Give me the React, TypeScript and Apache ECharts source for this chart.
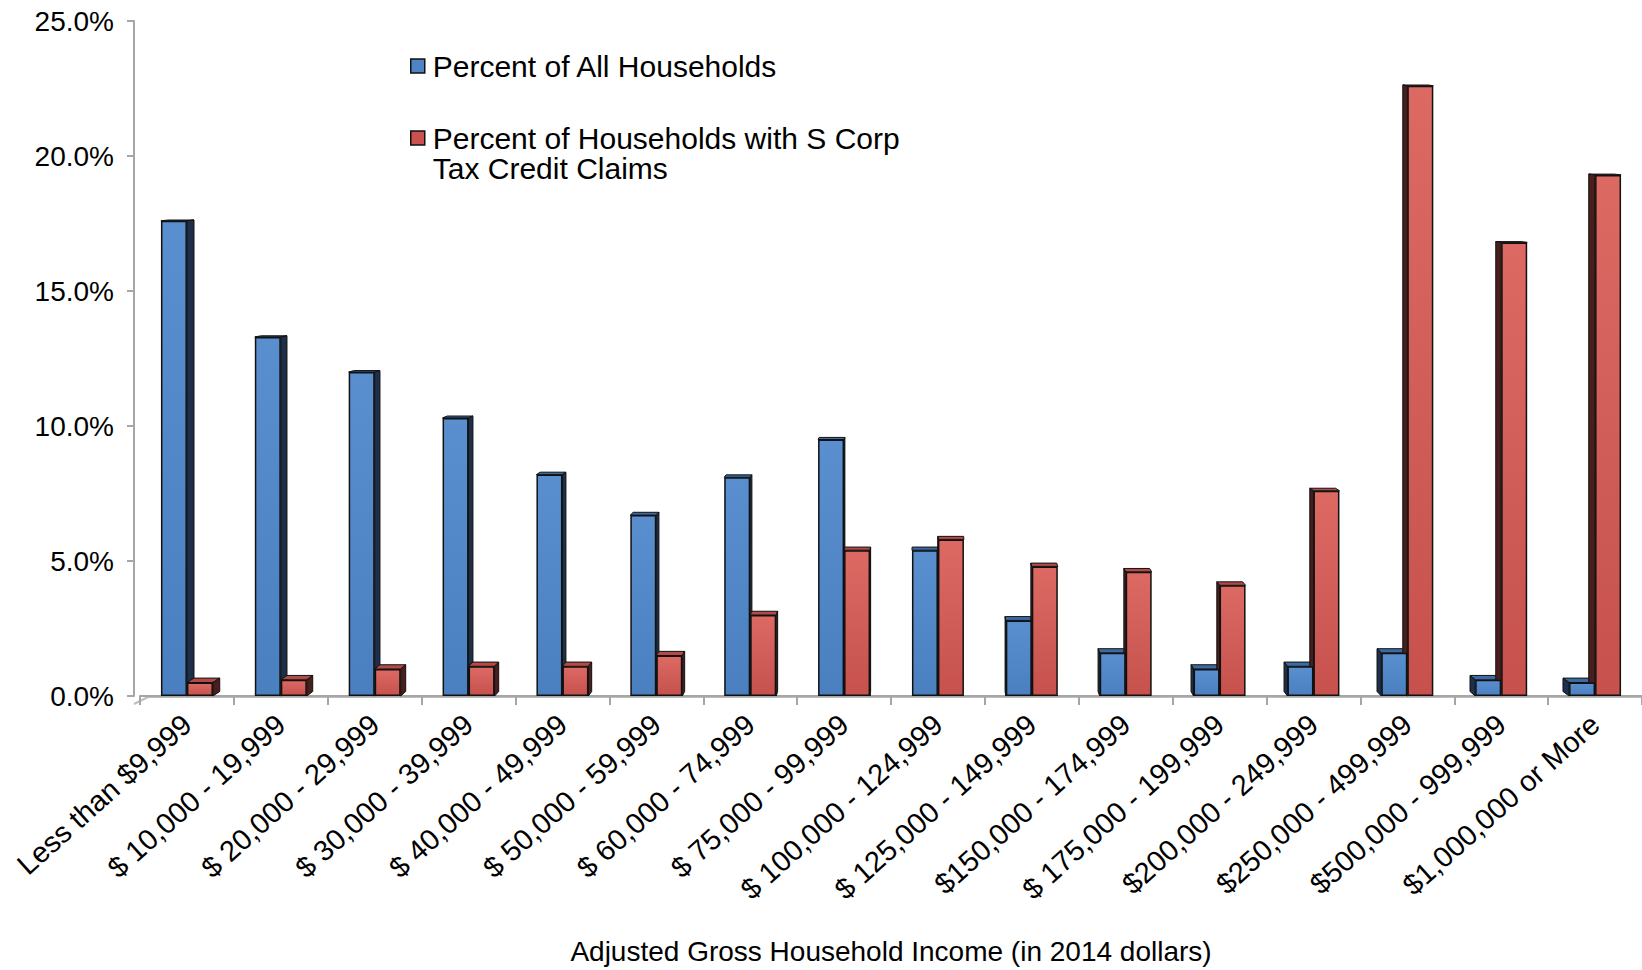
import React, { useEffect, useRef } from "react";
import * as echarts from "echarts";

const categories = [
  "Less than $9,999",
  "$ 10,000 - 19,999",
  "$ 20,000 - 29,999",
  "$ 30,000 - 39,999",
  "$ 40,000 - 49,999",
  "$ 50,000 - 59,999",
  "$ 60,000 - 74,999",
  "$ 75,000 - 99,999",
  "$ 100,000 - 124,999",
  "$ 125,000 - 149,999",
  "$150,000 - 174,999",
  "$ 175,000 - 199,999",
  "$200,000 - 249,999",
  "$250,000 - 499,999",
  "$500,000 - 999,999",
  "$1,000,000 or More",
];

const allHouseholds = [17.6, 13.3, 12.0, 10.3, 8.2, 6.7, 8.1, 9.5, 5.4, 2.8, 1.6, 1.0, 1.1, 1.6, 0.6, 0.5];
const sCorpHouseholds = [0.5, 0.6, 1.0, 1.1, 1.1, 1.5, 3.0, 5.4, 5.8, 4.8, 4.6, 4.1, 7.6, 22.6, 16.8, 19.3];

const yTicks = { min: 0, max: 25, interval: 5 };

const S1 = "Percent of All Households";
const S2 = "Percent of Households with S Corp Tax Credit Claims";

const FONT = "'Liberation Sans', Arial, Helvetica, sans-serif";
const BW = 26;
const VP_X = 930;
const EYE_Y = 220;
const K = 0.0095;

export default function App() {
  const ref = useRef<HTMLDivElement | null>(null);

  useEffect(() => {
    if (!ref.current) return;
    const chart = echarts.init(ref.current, undefined, { renderer: "svg" });

    const blueGrad = new echarts.graphic.LinearGradient(0, 0, 0, 1, [
      { offset: 0, color: "#5a8fcf" },
      { offset: 1, color: "#4a80c0" },
    ]);
    const redGrad = new echarts.graphic.LinearGradient(0, 0, 0, 1, [
      { offset: 0, color: "#dc6a63" },
      { offset: 1, color: "#c6514d" },
    ]);

    const sideData = categories.map((_, i) => [i, allHouseholds[i], sCorpHouseholds[i]]);

    const renderItem = (params: any, api: any) => {
      const i = api.value(0);
      const vb = api.value(1);
      const vr = api.value(2);
      const base = api.coord([i, 0]);
      const cx = base[0];
      const yb = base[1];
      const children: any[] = [];
      const drawBox = (x0: number, x1: number, v: number, side: string, top: string) => {
        const yt = api.coord([i, v])[1];
        const dyT = Math.min((EYE_Y - yt) * K, -0.8);
        const dyB = (EYE_Y - yb) * K;
        const dx0 = (VP_X - x0) * K;
        const dx1 = (VP_X - x1) * K;
        children.push({
          type: "polygon",
          shape: { points: [[x0, yt], [x1, yt], [x1 + dx1, yt + dyT], [x0 + dx0, yt + dyT]] },
          style: { fill: top, stroke: "#111", lineWidth: 1 },
        });
        if (x1 < VP_X) {
          children.push({
            type: "polygon",
            shape: { points: [[x1, yt], [x1 + dx1, yt + dyT], [x1 + dx1, yb + dyB], [x1, yb]] },
            style: { fill: side, stroke: "#111", lineWidth: 1 },
          });
        } else if (x0 > VP_X) {
          children.push({
            type: "polygon",
            shape: { points: [[x0, yt], [x0 + dx0, yt + dyT], [x0 + dx0, yb + dyB], [x0, yb]] },
            style: { fill: side, stroke: "#111", lineWidth: 1 },
          });
        }
      };
      drawBox(cx - BW, cx, vb, "#1d2f4a", "#3d6aa3");
      drawBox(cx, cx + BW, vr, "#4a1e1d", "#b34a47");
      return { type: "group", children };
    };

    const legendBase = {
      orient: "vertical",
      left: 410,
      padding: 0,
      itemWidth: 14,
      itemHeight: 14,
      icon: "rect",
      selectedMode: false,
      textStyle: { fontSize: 30, lineHeight: 30, color: "#000", fontFamily: FONT, padding: [0, 0, 0, 3] },
    };

    chart.setOption({
      animation: false,
      backgroundColor: "#ffffff",
      textStyle: { fontFamily: FONT },
      grid: { left: 140, right: 0, top: 21, bottom: 266, containLabel: false },
      legend: [
        {
          ...legendBase,
          top: 51,
          data: [{ name: S1, itemStyle: { color: "#4f84c4", borderColor: "#111", borderWidth: 1.5 } }],
        },
        {
          ...legendBase,
          top: 93,
          formatter: () => " \nPercent of Households with S Corp\nTax Credit Claims",
          data: [{ name: S2, itemStyle: { color: "#c9524f", borderColor: "#111", borderWidth: 1.5 } }],
        },
      ],
      xAxis: {
        type: "category",
        data: categories,
        name: "Adjusted Gross Household Income (in 2014 dollars)",
        nameLocation: "middle",
        nameGap: 241,
        nameTextStyle: { fontSize: 28, color: "#000", fontFamily: FONT },
        axisLine: { show: true, lineStyle: { color: "#a6a6a6", width: 2 } },
        axisTick: { show: true, alignWithLabel: false, length: 9, lineStyle: { color: "#a6a6a6", width: 2 } },
        axisLabel: {
          interval: 0,
          rotate: 42,
          fontSize: 29,
          color: "#000",
          margin: 24,
          fontFamily: FONT,
        },
        splitLine: { show: false },
      },
      yAxis: {
        type: "value",
        min: yTicks.min,
        max: yTicks.max,
        interval: yTicks.interval,
        offset: 6,
        axisLine: { show: true, lineStyle: { color: "#a6a6a6", width: 2 } },
        axisTick: { show: true, length: 7, lineStyle: { color: "#a6a6a6", width: 2 } },
        axisLabel: {
          fontSize: 28,
          color: "#000",
          margin: 20,
          fontFamily: FONT,
          formatter: (v: number) => v.toFixed(1) + "%",
        },
        splitLine: { show: false },
      },
      graphic: [
        {
          type: "line",
          shape: { x1: 134, y1: 704, x2: 148, y2: 697 },
          style: { stroke: "#bdbdbd", lineWidth: 2 },
          z: 0,
        },
        {
          type: "line",
          shape: { x1: 148, y1: 697, x2: 1642, y2: 697 },
          style: { stroke: "#bdbdbd", lineWidth: 2 },
          z: 0,
        },
      ],
      series: [
        {
          name: "depth",
          type: "custom",
          renderItem,
          data: sideData,
          encode: { x: 0, y: [1, 2] },
          z: 1,
          silent: true,
        },
        {
          name: S1,
          type: "bar",
          data: allHouseholds,
          barWidth: BW,
          barGap: "0%",
          z: 3,
          itemStyle: { color: blueGrad, borderColor: "#111", borderWidth: 1.5 },
        },
        {
          name: S2,
          type: "bar",
          data: sCorpHouseholds,
          barWidth: BW,
          barGap: "0%",
          z: 3,
          itemStyle: { color: redGrad, borderColor: "#111", borderWidth: 1.5 },
        },
      ],
    });

    return () => chart.dispose();
  }, []);

  return (
    <div
      ref={ref}
      style={{ position: "fixed", left: 0, top: 0, width: 1642, height: 970, background: "#fff" }}
    />
  );
}
